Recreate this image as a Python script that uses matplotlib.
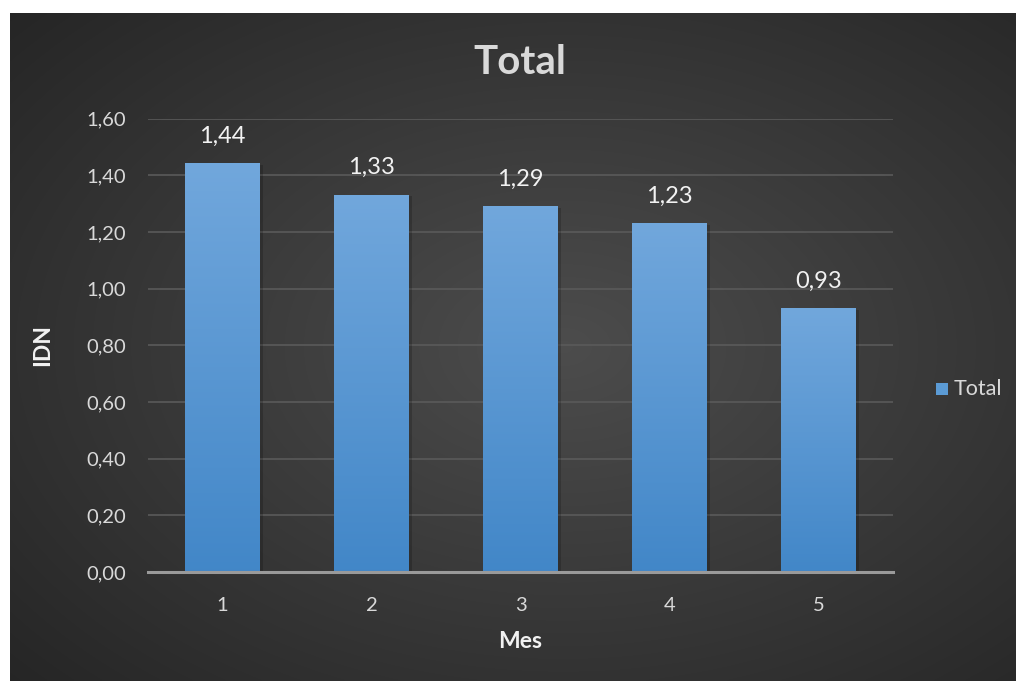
import matplotlib
matplotlib.use("Agg")
import matplotlib.pyplot as plt
import numpy as np

# data
meses = ["1", "2", "3", "4", "5"]
idn = [1.44, 1.33, 1.29, 1.23, 0.93]
yticks = [0.0, 0.2, 0.4, 0.6, 0.8, 1.0, 1.2, 1.4, 1.6]

W, H = 1016, 681
plt.rcParams['font.family'] = ['Lato', 'DejaVu Sans']

fig = plt.figure(figsize=(W / 100, H / 100), dpi=100)
fig.patch.set_facecolor("white")

# dark radial background
bg = fig.add_axes([10 / W, 0, (W - 10) / W, (H - 13) / H])
bg.set_axis_off()
yy, xx = np.mgrid[-1:1:300j, -1:1:450j]
r = np.sqrt((xx - 0.1) ** 2 + yy ** 2) / np.sqrt(2)
g = 0.30 - 0.145 * r
img = np.dstack([g, g, g])
bg.imshow(img, aspect="auto", extent=[0, 1, 0, 1], interpolation="bilinear")
bg.set_xlim(0, 1)
bg.set_ylim(0, 1)

def fx(px):
    return px / W

def fy(py):
    return 1 - py / H

ax = fig.add_axes([fx(148), fy(572), fx(893) - fx(148), fy(118.5) - fy(572)])
ax.set_facecolor("none")

x = np.arange(len(meses))
bars = ax.bar(x, idn, width=0.5, color="none", zorder=3)

# gradient fill per bar
grad = np.linspace(0, 1, 100).reshape(-1, 1)
top = np.array([0.443, 0.655, 0.863])
bot = np.array([0.259, 0.529, 0.784])
gimg = bot + (top - bot) * grad[:, :, None]
for b in bars:
    x0, w, h = b.get_x(), b.get_width(), b.get_height()
    # soft shadow
    ax.add_patch(plt.Rectangle((x0 + 0.015, 0), w + 0.01, h - 0.005,
                               color="black", alpha=0.18, zorder=2, lw=0))
    ax.imshow(gimg, extent=[x0, x0 + w, 0, h], origin="lower",
              aspect="auto", zorder=3, interpolation="bilinear")
    ax.text(x0 + w / 2, h + 0.06, ("%.2f" % h).replace(".", ","),
            ha="center", va="bottom", color="#f2f2f2", fontsize=17)

ax.set_xlim(-0.5, len(meses) - 0.5)
ax.set_ylim(0, 1.6)
ax.set_xticks(x)
ax.set_xticklabels(meses)
ax.set_yticks(yticks)
ax.set_yticklabels([("%.2f" % v).replace(".", ",") for v in yticks])
ax.tick_params(axis="both", length=0, colors="#d9d9d9", labelsize=14.5)
ax.tick_params(axis="x", pad=18)
ax.tick_params(axis="y", pad=16)

ax.grid(axis="y", color="#5a5a5a", linewidth=1.2, zorder=0)
ax.set_axisbelow(True)
for s in ["top", "right", "left"]:
    ax.spines[s].set_visible(False)
ax.spines["bottom"].set_color("#9a9a9a")
ax.spines["bottom"].set_linewidth(2.2)
ax.spines["bottom"].set_zorder(4)

ax.set_ylabel("IDN", fontsize=16.5, fontweight="bold", color="#f2f2f2", labelpad=24)
ax.set_xlabel("Mes", fontsize=16.5, fontweight="bold", color="#f2f2f2", labelpad=12)

fig.text(fx(520), fy(62), "Total", ha="center", va="center", fontsize=29,
         fontweight="bold", color="#d9d9d9")

# legend
fig.patches.append(plt.Rectangle((fx(936), fy(395)), 12 / W, 12 / H,
                                 transform=fig.transFigure, figure=fig,
                                 facecolor="#5b9bd5", edgecolor="none"))
fig.text(fx(954), fy(389), "Total", ha="left", va="center", fontsize=15.5,
         color="#d9d9d9")

fig.savefig("out.png", dpi=100, facecolor=fig.get_facecolor())
